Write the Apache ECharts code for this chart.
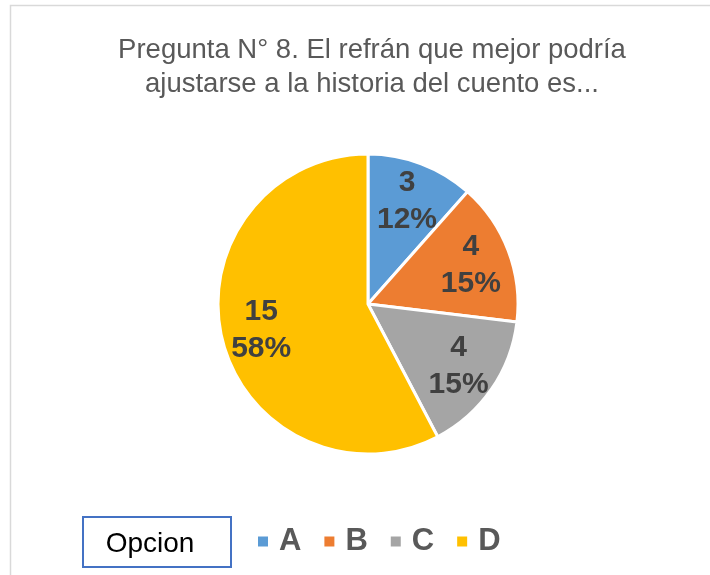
<!DOCTYPE html>
<html>
<head>
<meta charset="utf-8">
<script src="https://cdn.jsdelivr.net/npm/echarts@6/dist/echarts.min.js"></script>
<style>html,body{margin:0;padding:0;background:#fff;}#c{width:710px;height:575px;}</style>
</head>
<body>
<div id="c"></div>
<script>
const categories = ['A', 'B', 'C', 'D'];
const values = [3, 4, 4, 15];
const colors = ['#5B9BD5', '#ED7D31', '#A5A5A5', '#FFC000'];
const titleText = 'Pregunta N° 8. El refrán que mejor podría\najustarse a la historia del cuento es...';
const fieldButton = 'Opcion';

const data = categories.map((c, i) => ({ name: c, value: values[i], itemStyle: { color: colors[i] } }));

const chart = echarts.init(document.getElementById('c'), null, { renderer: 'canvas' });
chart.setOption({
  backgroundColor: '#ffffff',
  animation: false,
  title: {
    text: titleText,
    left: 367,
    textAlign: 'center',
    top: 28,
    textStyle: { fontFamily: 'Liberation Sans, Arial, sans-serif', fontSize: 27.5, fontWeight: 'normal', color: '#595959', lineHeight: 34 }
  },
  legend: {
    data: categories,
    left: 256,
    top: 526,
    padding: 0,
    icon: 'rect',
    itemWidth: 12,
    itemHeight: 12,
    itemGap: 21,
    textStyle: { fontFamily: 'Liberation Sans, Arial, sans-serif', fontSize: 31, fontWeight: 'bold', color: '#595959', padding: [0, 0, 0, 5] }
  },
  graphic: [
    { type: 'rect', shape: { x: 10.5, y: 5.5, width: 720, height: 600 }, style: { fill: 'none', stroke: '#d9d9d9', lineWidth: 1.5 }, silent: true, z: -10 },
    { type: 'rect', shape: { x: 83, y: 517, width: 148, height: 50 }, style: { fill: '#ffffff', stroke: '#4472C4', lineWidth: 2 } },
    { type: 'text', x: 150, y: 544, style: { text: fieldButton, fill: '#000000', font: '28px Liberation Sans, Arial, sans-serif', textAlign: 'center', textVerticalAlign: 'middle' } }
  ],
  series: [
    {
      type: 'pie',
      center: [368, 304],
      radius: [0, 150],
      startAngle: 90,
      clockwise: true,
      percentPrecision: 0,
      itemStyle: { borderColor: '#ffffff', borderWidth: 3 },
      label: { show: false },
      labelLine: { show: false },
      emphasis: { disabled: true },
      data: data
    },
    {
      type: 'pie',
      center: [368, 304],
      radius: [0, 214],
      startAngle: 90,
      clockwise: true,
      percentPrecision: 0,
      silent: true,
      itemStyle: { color: 'rgba(0,0,0,0)', borderWidth: 0 },
      label: {
        show: true,
        position: 'inside',
        formatter: '{c}\n{d}%',
        fontFamily: 'Liberation Sans, Arial, sans-serif',
        fontSize: 30,
        fontWeight: 'bold',
        color: '#404040',
        lineHeight: 37,
        textBorderWidth: 0
      },
      labelLine: { show: false },
      emphasis: { disabled: true },
      data: categories.map((c, i) => ({ name: c, value: values[i] }))
    }
  ]
});
</script>
</body>
</html>
